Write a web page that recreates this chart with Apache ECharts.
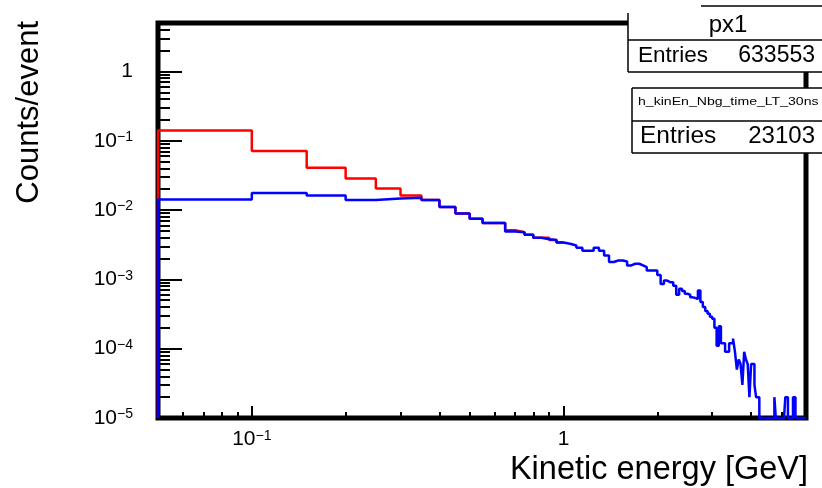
<!DOCTYPE html>
<html>
<head>
<meta charset="utf-8">
<script src="https://cdn.jsdelivr.net/npm/echarts@6/dist/echarts.min.js"></script>
<style>
  html, body { margin: 0; padding: 0; background: #ffffff; }
  #chart { width: 822px; height: 488px; }
</style>
</head>
<body>
<div id="chart"></div>
<script>
// Binning of both histograms: 0.05 GeV wide bins, first drawn bin starts at 0.05 GeV
const binStart = 0.05;
const binWidth = 0.05;

// px1: counts/event per bin, 0.05 - 1.00 GeV (above 1 GeV it lies under the other histogram)
const countsPx1 = [
  0.1405, 0.0711, 0.0409, 0.0286, 0.0205, 0.0162, 0.0140, 0.0111, 0.0089, 0.0075,
  0.0065, 0.0065, 0.0051, 0.0048, 0.0044, 0.0040, 0.0040, 0.0037, 0.0034
];

// h_kinEn_Nbg_time_LT_30ns: counts/event per bin, 0.05 - 6.00 GeV
const countsTimeCut = [
  0.0142, 0.0176, 0.0162, 0.0140, 0.0147, 0.0150, 0.0140, 0.0111, 0.0089, 0.0075,
  0.0065, 0.0065, 0.0049, 0.0048, 0.0044, 0.0040, 0.0038, 0.0037, 0.0034,
  0.00327, 0.00309, 0.00286, 0.00259, 0.00259, 0.00286, 0.00259, 0.00221, 0.00178, 0.00187,
  0.00187, 0.00181, 0.00159, 0.00168, 0.00168, 0.00159, 0.00150, 0.00134, 0.00134, 0.00134,
  0.00116, 0.00086, 0.00096, 0.00091, 0.00091, 0.00081, 0.00060, 0.00073, 0.00068, 0.00062,
  0.00060, 0.00055, 0.00054, 0.00052, 0.00069, 0.00047, 0.00040, 0.00035, 0.00032, 0.00029,
  0.00027, 0.00020, 0.00011, 0.00021, 0.00012, 0.00012, 0.00009, 0.00009, 0.00012, 0.00012,
  0.00014, 0.00009, 0.00005, 0.00007, 0.00006, 0.00003, 0.00009, 0.00007, 0.00006, 0.00002,
  0.00006, 0.00006, 0.00003, 0.00002, 0.00002,
  0, 0, 0, 0, 0, 0, 0, 0, 0, 0,
  0.00002, 0, 0, 0, 0, 0, 0, 0,
  0.00002, 0.00002, 0, 0, 0, 0,
  0.00002, 0.00002, 0, 0, 0, 0, 0, 0, 0, 0, 0
];

// Axis ranges and tick positions
const xRange = [0.05, 6];
const yRange = [1e-5, 5];
const xTicksMajor = [0.1, 1];
const xTicksMinor = [0.06, 0.07, 0.08, 0.09, 0.2, 0.3, 0.4, 0.5, 0.6, 0.7, 0.8, 0.9, 2, 3, 4, 5];
const yTicksMajor = [1e-5, 1e-4, 1e-3, 1e-2, 1e-1, 1];
const yTicksMinor = [];
yTicksMajor.forEach(d => { for (let m = 2; m <= 9; m++) yTicksMinor.push(+(m * d).toPrecision(3)); });

// Statistics boxes
const stats1 = { title: 'px1', entries: 633553 };
const stats2 = { title: 'h_kinEn_Nbg_time_LT_30ns', entries: 23103 };

const FONT = '"Liberation Sans", Arial, Helvetica, sans-serif';

// Outline of a histogram: starts on the axis floor, then a flat top per bin
function outline(values, closeAtEnd) {
  const floor = yRange[0];
  const edge = i => Math.round((binStart + i * binWidth) * 1000) / 1000;
  const pts = [[edge(0), floor]];
  values.forEach((v, i) => {
    const y = v > 0 ? v : floor; // empty bins sit on the floor of the log axis
    pts.push([edge(i), y], [edge(i + 1), y]);
  });
  if (closeAtEnd) pts.push([edge(values.length), floor]);
  return pts;
}

function powerLabel(v) {
  const e = Math.round(Math.log10(v));
  if (e === 0) return '{b|1}';
  return '{b|10}{s|' + (e < 0 ? '\u2212' + (-e) : e) + '}';
}

const labelRich = {
  b: { fontSize: 21, fontFamily: FONT, color: '#000' },
  s: { fontSize: 14, fontFamily: FONT, color: '#000', verticalAlign: 'top' }
};

const chart = echarts.init(document.getElementById('chart'), null, { renderer: 'canvas' });

const commonX = { type: 'log', logBase: 10, min: xRange[0], max: xRange[1], position: 'bottom',
  axisLine: { show: false }, splitLine: { show: false } };
const commonY = { type: 'log', logBase: 10, min: yRange[0], max: yRange[1], position: 'left',
  axisLine: { show: false }, splitLine: { show: false } };

chart.setOption({
  animation: false,
  backgroundColor: '#ffffff',
  grid: {
    left: 158, right: 16, top: 23, bottom: 70,
    show: true, borderColor: '#000', borderWidth: 5, backgroundColor: 'transparent'
  },
  xAxis: [
    Object.assign({}, commonX, {
      axisTick: { inside: true, length: 12, customValues: xTicksMajor, lineStyle: { color: '#000', width: 2 } },
      axisLabel: { customValues: xTicksMajor, margin: 11, formatter: powerLabel, rich: labelRich }
    }),
    Object.assign({}, commonX, {
      axisTick: { inside: true, length: 6, customValues: xTicksMinor, lineStyle: { color: '#000', width: 2 } },
      axisLabel: { show: false }
    })
  ],
  yAxis: [
    Object.assign({}, commonY, {
      axisTick: { inside: true, length: 24, customValues: yTicksMajor, lineStyle: { color: '#000', width: 2 } },
      axisLabel: { customValues: yTicksMajor, margin: 25, formatter: powerLabel, rich: labelRich }
    }),
    Object.assign({}, commonY, {
      axisTick: { inside: true, length: 12, customValues: yTicksMinor, lineStyle: { color: '#000', width: 2 } },
      axisLabel: { show: false }
    })
  ],
  series: [
    {
      name: stats1.title, type: 'line', xAxisIndex: 0, yAxisIndex: 0,
      data: outline(countsPx1, false), showSymbol: false, symbol: 'none', clip: true,
      lineStyle: { color: '#ff0000', width: 2.5 }
    },
    {
      name: stats2.title, type: 'line', xAxisIndex: 0, yAxisIndex: 0,
      data: outline(countsTimeCut, true), showSymbol: false, symbol: 'none', clip: true,
      lineStyle: { color: '#0000ff', width: 2.5 }
    }
  ],
  graphic: [
    // axis titles
    { type: 'text', x: 29, y: 21, rotation: Math.PI / 2, z: 100,
      style: { text: 'Counts/event', font: '31px ' + FONT, fill: '#000', align: 'right', verticalAlign: 'middle' } },
    { type: 'text', x: 808, y: 470, z: 100,
      style: { text: 'Kinetic energy [GeV]', font: '32.5px ' + FONT, fill: '#000', align: 'right', verticalAlign: 'middle' } },

    // statistics box 1
    { type: 'rect', z: 100, shape: { x: 628, y: 6, width: 200, height: 66 }, style: { fill: '#fff' } },
    { type: 'line', z: 101, shape: { x1: 701, y1: 6, x2: 822, y2: 6 }, style: { stroke: '#000', lineWidth: 1.5 } },
    { type: 'line', z: 101, shape: { x1: 628, y1: 13, x2: 628, y2: 72 }, style: { stroke: '#000', lineWidth: 1.5 } },
    { type: 'line', z: 101, shape: { x1: 628, y1: 40, x2: 822, y2: 40 }, style: { stroke: '#000', lineWidth: 1.5 } },
    { type: 'line', z: 101, shape: { x1: 628, y1: 72, x2: 822, y2: 72 }, style: { stroke: '#000', lineWidth: 1.5 } },
    { type: 'text', x: 728, y: 25, z: 101,
      style: { text: stats1.title, font: '24px ' + FONT, fill: '#000', align: 'center', verticalAlign: 'middle' } },
    { type: 'text', x: 638, y: 56, z: 101,
      style: { text: 'Entries', font: '22.5px ' + FONT, fill: '#000', align: 'left', verticalAlign: 'middle' } },
    { type: 'text', x: 815, y: 56, z: 101,
      style: { text: String(stats1.entries), font: '23px ' + FONT, fill: '#000', align: 'right', verticalAlign: 'middle' } },

    // statistics box 2
    { type: 'rect', z: 100, shape: { x: 632, y: 88, width: 200, height: 65 }, style: { fill: '#fff' } },
    { type: 'line', z: 101, shape: { x1: 632, y1: 88, x2: 822, y2: 88 }, style: { stroke: '#000', lineWidth: 1.5 } },
    { type: 'line', z: 101, shape: { x1: 632, y1: 88, x2: 632, y2: 153 }, style: { stroke: '#000', lineWidth: 1.5 } },
    { type: 'line', z: 101, shape: { x1: 632, y1: 121, x2: 822, y2: 121 }, style: { stroke: '#000', lineWidth: 1.5 } },
    { type: 'line', z: 101, shape: { x1: 632, y1: 153, x2: 822, y2: 153 }, style: { stroke: '#000', lineWidth: 1.5 } },
    { type: 'text', x: 638, y: 102, z: 101, scaleX: 1.28,
      style: { text: stats2.title, font: '11px ' + FONT, fill: '#000', align: 'left', verticalAlign: 'middle' } },
    { type: 'text', x: 640, y: 136, z: 101,
      style: { text: 'Entries', font: '24.5px ' + FONT, fill: '#000', align: 'left', verticalAlign: 'middle' } },
    { type: 'text', x: 815, y: 136, z: 101,
      style: { text: String(stats2.entries), font: '24px ' + FONT, fill: '#000', align: 'right', verticalAlign: 'middle' } }
  ]
});
</script>
</body>
</html>
